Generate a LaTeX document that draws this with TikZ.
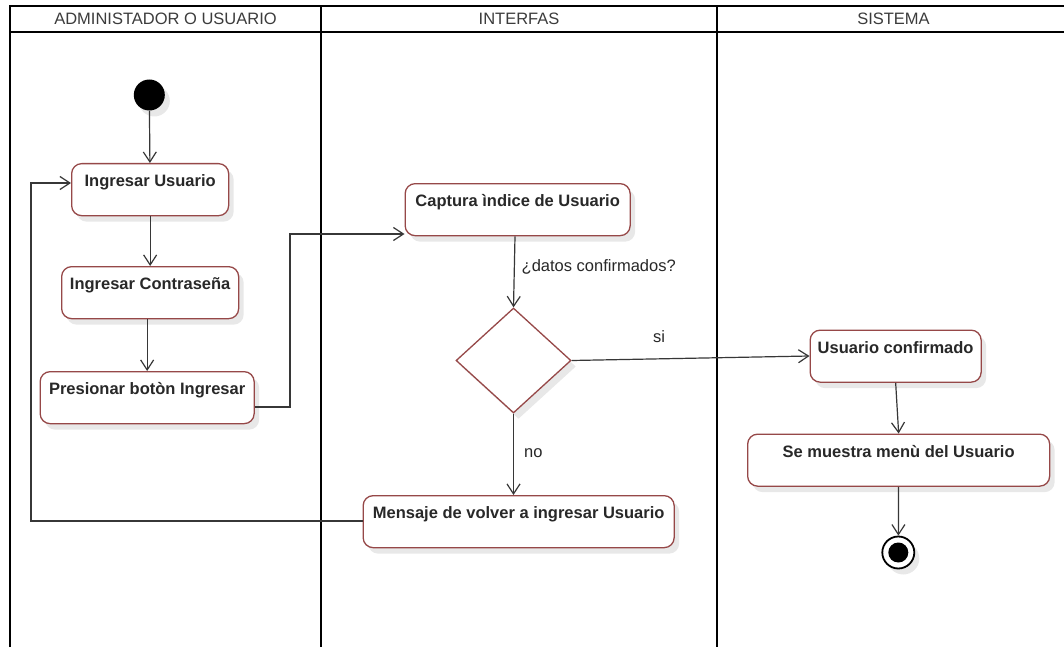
\documentclass[tikz,border=0pt]{standalone}
\usepackage{fontspec}
\setmainfont{Liberation Sans}
\usetikzlibrary{arrows.meta,shapes.geometric,shadows}

\definecolor{boxred}{RGB}{150,72,72}
\definecolor{edgegray}{RGB}{55,55,55}
\definecolor{labelgray}{RGB}{40,40,40}
\definecolor{headgray}{RGB}{60,60,60}

\tikzset{
  lane/.style={draw=black, line width=2pt},
  lanetitle/.style={anchor=base, text=headgray, inner sep=0pt,
    font=\fontsize{16.5}{19}\selectfont},
  softshadow/.style={drop shadow={shadow xshift=5pt, shadow yshift=-6pt,
    fill=black, opacity=0.09}},
  activity/.style={draw=boxred, line width=1.3pt, fill=white,
    rounded corners=10pt, anchor=north west, inner xsep=2pt, inner ysep=0pt,
    text height=23pt, text depth=29pt, text=labelgray,
    font=\bfseries\fontsize{16.5}{19}\selectfont, softshadow},
  decision/.style={diamond, draw=boxred, line width=1.3pt, fill=white,
    inner sep=0pt, minimum width=115pt, minimum height=105pt, softshadow},
  startnode/.style={circle, fill=black, inner sep=0pt, minimum size=31pt,
    softshadow},
  endnode/.style={circle, draw=black, line width=1.8pt, fill=white,
    inner sep=0pt, minimum size=32pt, softshadow,
    path picture={\fill[black] (path picture bounding box.center) circle (10pt);}},
  flow/.style={draw=edgegray, line width=1.2pt,
    -{Straight Barb[length=10pt,width=13pt,line width=1.2pt]}},
  guard/.style={anchor=base west, inner sep=0pt, text=labelgray,
    font=\fontsize{16.5}{19}\selectfont},
}

\begin{document}
\begin{tikzpicture}[x=1pt, y=-1pt]
\useasboundingbox (0,0) rectangle (1064,647);
\fill[white] (0,0) rectangle (1064,647);

% swimlanes
\draw[lane] (10,647) -- (10,6) -- (1072,6);
\draw[lane] (10,32) -- (1072,32);
\draw[lane] (321,6) -- (321,647);
\draw[lane] (717,6) -- (717,647);
\node[lanetitle] (t1) at (165.5,24.5) {ADMINISTADOR O USUARIO};
\node[lanetitle] (t2) at (519,24.5) {INTERFAS};
\node[lanetitle] (t3) at (893.5,24.5) {SISTEMA};

% activities
\node[startnode] (init) at (149.3,95) {};
\node[activity, minimum width=157pt] (iu) at (71,163) {Ingresar Usuario};
\node[activity, minimum width=177pt] (ic) at (61,266) {Ingresar Contraseña};
\node[activity, minimum width=214pt] (pb) at (39.5,371) {Presionar botòn Ingresar};
\node[activity, minimum width=225pt] (cap) at (404.5,183) {Captura ìndice de Usuario};
\node[decision] (dia) at (513.5,360.5) {};
\node[activity, minimum width=311pt] (msg) at (362.5,495) {Mensaje de volver a ingresar Usuario};
\node[activity, minimum width=171pt] (uc) at (809.5,329.5) {Usuario confirmado};
\node[activity, minimum width=302pt] (sm) at (747,433.5) {Se muestra menù del Usuario};
\node[endnode] (fin) at (898.3,552.5) {};

% control flow
\draw[flow] (init) -- (iu);
\draw[flow] (iu) -- (ic);
\draw[flow] (ic.south -| pb) -- (pb.north);
\draw[flow] (pb.east |- 0,407) -- (290,407) |- (cap.west |- 0,234);
\draw[flow] (cap.south -| 515,0) -- (dia.north);
\draw[flow] (dia.east) -- (uc.west |- 0,356);
\draw[flow] (dia.south) -- (msg.north -| dia);
\draw[flow] (msg.west |- 0,521) -- (31,521) |- (iu.west |- 0,183);
\draw[flow] (uc.south) -- (sm.north);
\draw[flow] (sm) -- (fin);

% guards
\node[guard] (g1) at (521.5,271.5) {¿datos confirmados?};
\node[guard] (g2) at (653,342.3) {si};
\node[guard] (g3) at (524,457.5) {no};
\end{tikzpicture}
\end{document}
